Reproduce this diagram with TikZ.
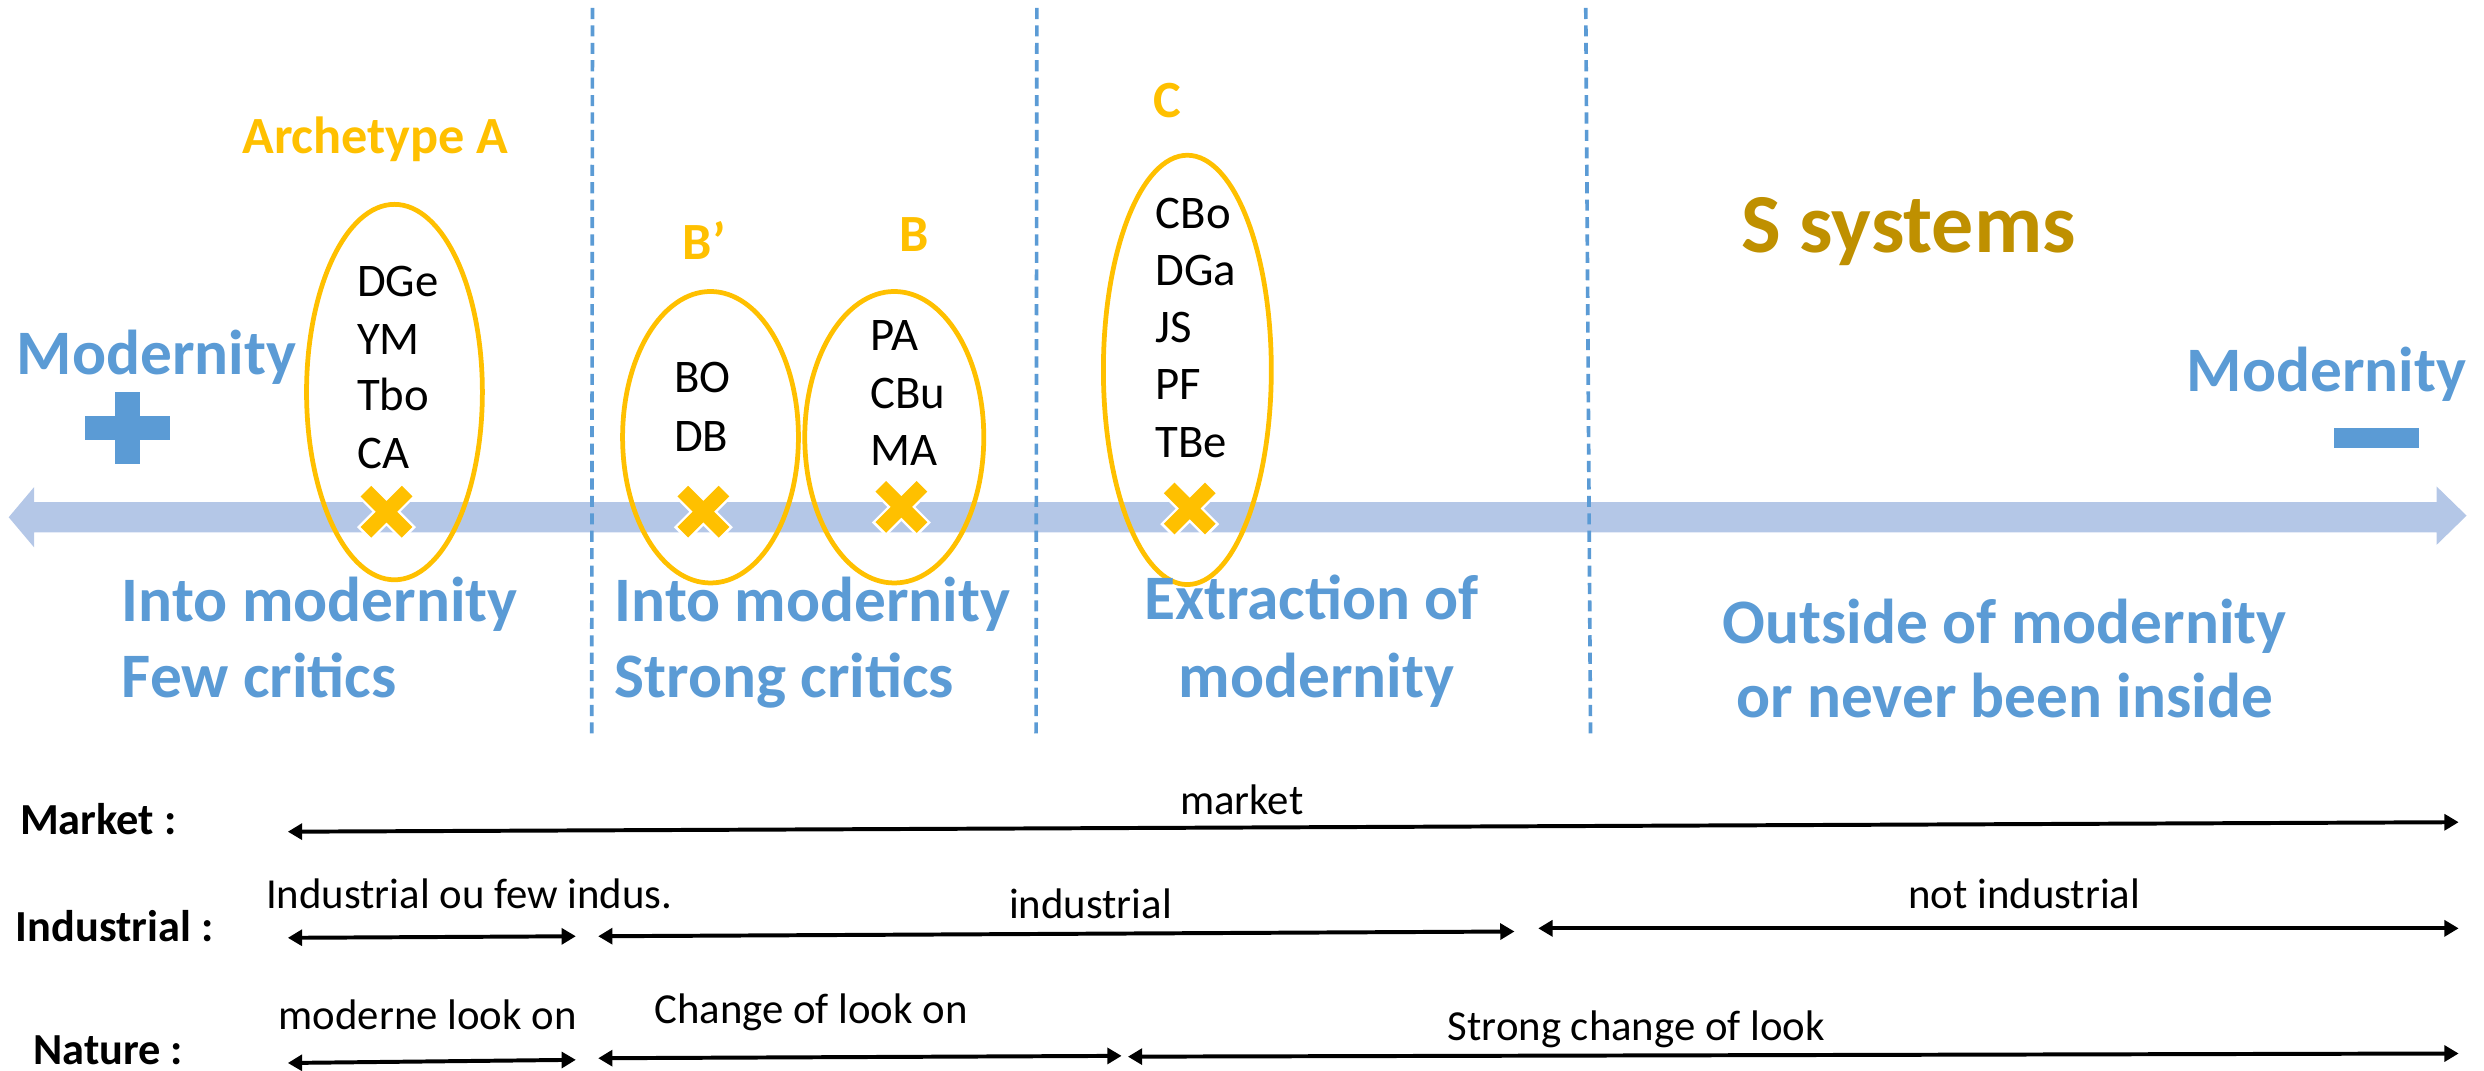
\documentclass[tikz,border=0pt]{standalone}
\usepackage{fontspec}
\setmainfont{Carlito}
\usetikzlibrary{arrows.meta,shapes.geometric}
\definecolor{mblue}{HTML}{5B9BD5}
\definecolor{myellow}{HTML}{FFC000}
\definecolor{mgold}{HTML}{BF9000}
\definecolor{band}{HTML}{B4C7E7}
\begin{document}
\begin{tikzpicture}[x=1pt,y=-1pt,
  txt/.style={inner sep=0pt,outer sep=0pt,anchor=base west},
  member/.style={txt,font=\fontsize{29.5}{36}\selectfont},
  bluetxt/.style={txt,text=mblue,font=\bfseries\fontsize{40}{48}\selectfont},
  grouplbl/.style={txt,text=myellow,font=\bfseries\fontsize{33}{40}\selectfont},
  rowhdr/.style={txt,font=\bfseries\fontsize{28}{34}\selectfont},
  rowlbl/.style={txt,font=\fontsize{27}{33}\selectfont},
  grp/.style={ellipse,draw=myellow,line width=3pt,inner sep=0pt,fill=none},
  divider/.style={draw=mblue,line width=2.3pt,dash pattern=on 7pt off 4pt},
  span/.style={draw=black,line width=2.5pt,{Triangle[length=9pt,width=10pt]}-{Triangle[length=9pt,width=10pt]}},
  xmark/.pic={
    \draw[white,line width=12.5pt] (-14.2,-14.2)--(14.2,14.2) (-14.2,14.2)--(14.2,-14.2);
    \draw[myellow,line width=9.5pt] (-13,-13)--(13,13) (-13,13)--(13,-13);
  }]
\useasboundingbox (0,0) rectangle (1568,676);

% main axis arrow
\fill[band] (5.5,326.5) -- (21.5,307.5) -- (21.5,317) -- (1538,317) -- (1538,307)
  -- (1557,325.5) -- (1538,344) -- (1538,336) -- (21.5,336) -- (21.5,345.5) -- cycle;

% dashed dividers
\coordinate (d1t) at (374,5);   \coordinate (d1b) at (373.5,463);
\coordinate (d2t) at (654.5,5); \coordinate (d2b) at (654,463);
\coordinate (d3t) at (1001,5);  \coordinate (d3b) at (1004,463);
\draw[divider] (d1t) -- (d1b);
\draw[divider] (d2t) -- (d2b);
\draw[divider] (d3t) -- (d3b);

% markers
\pic (xA) at (244,323) {xmark};
\pic (xBp) at (444,323) {xmark};
\pic (xB) at (569,320) {xmark};
\pic (xC) at (751,321) {xmark};

% groups
\node[grp,minimum width=111pt,minimum height=237pt] (eA) at (249,247.5) {};
\node[grp,minimum width=111pt,minimum height=184pt] (eBp) at (448.5,276) {};
\node[grp,minimum width=113pt,minimum height=184pt] (eB) at (564.5,276) {};
\node[grp,minimum width=106pt,minimum height=271pt] (eC) at (749.5,233.5) {};

% group labels
\node[grouplbl] (lA) at (153,97) {Archetype A};
\node[grouplbl] (lBp) at (431,164) {B’};
\node[grouplbl] (lB) at (568,159) {B};
\node[grouplbl] (lC) at (728,74) {C};
\node[txt,text=mgold,font=\bfseries\fontsize{53}{64}\selectfont] (ls) at (1099,159.5) {S systems};

% members
\node[member] (a1) at (225.5,187.3) {DGe};
\node[member] (a2) at (225.5,223.5) {YM};
\node[member] (a3) at (225.5,259.4) {Tbo};
\node[member] (a4) at (225.5,295.5) {CA};
\node[member] (bp1) at (425.5,248) {BO};
\node[member] (bp2) at (425.5,285) {DB};
\node[member] (b1) at (549.5,221) {PA};
\node[member] (b2) at (549.5,258) {CBu};
\node[member] (b3) at (549.5,294) {MA};
\node[member] (c1) at (729.5,144) {CBo};
\node[member] (c2) at (729.5,180) {DGa};
\node[member] (c3) at (729.5,216.5) {JS};
\node[member] (c4) at (729.5,252) {PF};
\node[member] (c5) at (729.5,288.5) {TBe};

% modernity ends
\node[bluetxt] (mL) at (10.5,236.7) {Modernity};
\node[bluetxt] (mR) at (1380.5,247) {Modernity};
\fill[mblue] (72.6,247.5) rectangle (88.4,293);
\fill[mblue] (53.7,262.6) rectangle (107.6,277.8);
\fill[mblue] (1473,270) rectangle (1527,283);

% zone captions
\node[bluetxt] (z1a) at (77,392) {Into modernity};
\node[bluetxt] (z1b) at (77,440) {Few critics};
\node[bluetxt] (z2a) at (388,392) {Into modernity};
\node[bluetxt] (z2b) at (388,440) {Strong critics};
\node[bluetxt,anchor=base] (z3a) at (828,391) {Extraction of};
\node[bluetxt,anchor=base] (z3b) at (831,440) {modernity};
\node[bluetxt,anchor=base] (z4a) at (1265.5,406) {Outside of modernity};
\node[bluetxt,anchor=base] (z4b) at (1265.5,453) {or never been inside};

% rows
\node[rowhdr] (hM) at (12.7,527) {Market :};
\node[rowhdr] (hI) at (10,594.5) {Industrial :};
\node[rowhdr] (hN) at (21,672) {Nature :};

\coordinate (m0) at (181.7,525);  \coordinate (m1) at (1552,519);
\coordinate (i0) at (181.7,592);  \coordinate (i1) at (363.5,591);
\coordinate (i2) at (377.6,591);  \coordinate (i3) at (956,588);
\coordinate (i4) at (971,586);    \coordinate (i5) at (1552,586);
\coordinate (n0) at (181.7,671);  \coordinate (n1) at (363.5,669);
\coordinate (n2) at (377.6,668);  \coordinate (n3) at (708,666.5);
\coordinate (n4) at (712,667);    \coordinate (n5) at (1552,665);

\draw[span] (m0) -- (m1);
\draw[span] (i0) -- (i1);
\draw[span] (i2) -- (i3);
\draw[span] (i4) -- (i5);
\draw[span] (n0) -- (n1);
\draw[span] (n2) -- (n3);
\draw[span] (n4) -- (n5);

\node[rowlbl] (tm) at (745,514) {market};
\node[rowlbl] (ti1) at (168,573.4) {Industrial ou few indus.};
\node[rowlbl] (ti2) at (637,580) {industrial};
\node[rowlbl] (ti3) at (1204.6,573.5) {not industrial};
\node[rowlbl] (tn1) at (176,650) {moderne look on};
\node[rowlbl] (tn2) at (413,646) {Change of look on};
\node[rowlbl] (tn3) at (914,656.6) {Strong change of look};
\end{tikzpicture}
\end{document}
